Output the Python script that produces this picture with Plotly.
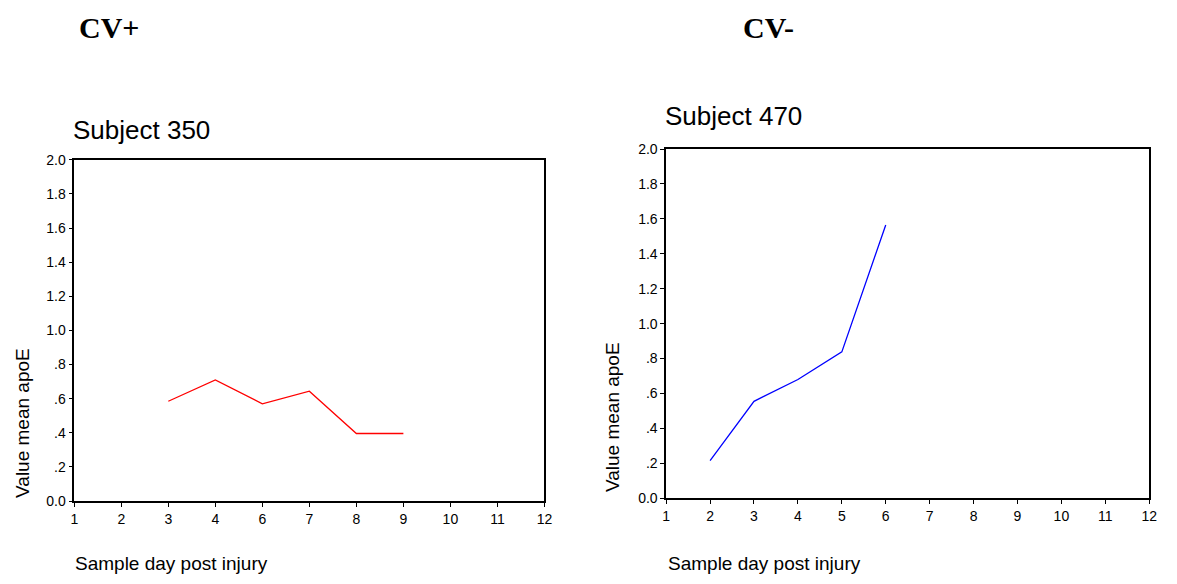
import plotly.graph_objects as go

# Subject 350 (CV+): sample days present in the record, and apoE values
days_350_axis = ["1", "2", "3", "4", "6", "7", "8", "9", "10", "11", "12"]
days_350 = ["3", "4", "6", "7", "8", "9"]
apoe_350 = [0.585, 0.71, 0.57, 0.644, 0.396, 0.396]

# Subject 470 (CV-)
days_470 = [2, 3, 4, 5, 6]
apoe_470 = [0.215, 0.555, 0.68, 0.838, 1.565]

y_ticks = [0.0, 0.2, 0.4, 0.6, 0.8, 1.0, 1.2, 1.4, 1.6, 1.8, 2.0]
y_labels = ["0.0", ".2", ".4", ".6", ".8", "1.0", "1.2", "1.4", "1.6", "1.8", "2.0"]

W, H = 1177, 584
FONT = "Liberation Sans, Arial, sans-serif"
SERIF = "Liberation Serif, Times New Roman, serif"


def dom_x(a, b):
    return [a / W, b / W]


def dom_y(top, bottom):
    return [1 - bottom / H, 1 - top / H]


fig = go.Figure()
fig.add_trace(go.Scatter(x=days_350, y=apoe_350, mode="lines",
                         line=dict(color="#ff0000", width=1.3),
                         xaxis="x", yaxis="y", showlegend=False))
fig.add_trace(go.Scatter(x=days_470, y=apoe_470, mode="lines",
                         line=dict(color="#0000ff", width=1.3),
                         xaxis="x2", yaxis="y2", showlegend=False))

axis_common = dict(showline=True, linecolor="black", linewidth=1.5, mirror=True,
                   ticks="outside", ticklen=4, tickcolor="black", tickwidth=1,
                   showgrid=False, zeroline=False,
                   tickfont=dict(family=FONT, size=14, color="black"))

fig.update_layout(
    width=W, height=H,
    margin=dict(l=0, r=0, t=0, b=0),
    paper_bgcolor="white", plot_bgcolor="white",
    xaxis=dict(domain=dom_x(71, 546), anchor="y", type="category",
               categoryorder="array", categoryarray=days_350_axis,
               range=[0, len(days_350_axis) - 1], **axis_common),
    yaxis=dict(domain=dom_y(156, 507), anchor="x", range=[0, 2],
               tickvals=y_ticks, ticktext=y_labels, **axis_common),
    xaxis2=dict(domain=dom_x(669, 1157), anchor="y2", range=[1, 12],
                tickmode="linear", tick0=1, dtick=1, **axis_common),
    yaxis2=dict(domain=dom_y(145, 504), anchor="x2", range=[0, 2],
                tickvals=y_ticks, ticktext=y_labels, **axis_common),
)

texts = [
    dict(text="<b>CV+</b>", x=74, y=20, size=30, family=SERIF),
    dict(text="<b>CV-</b>", x=745, y=20, size=30, family=SERIF),
    dict(text="Subject 350", x=68, y=125, size=26, family=FONT),
    dict(text="Subject 470", x=666, y=111, size=26, family=FONT),
    dict(text="Sample day post injury", x=70, y=571, size=19, family=FONT),
    dict(text="Sample day post injury", x=669, y=571, size=19, family=FONT),
]
for t in texts:
    fig.add_annotation(text=t["text"], xref="paper", yref="paper",
                       x=t["x"] / W, y=1 - t["y"] / H, xanchor="left", yanchor="middle",
                       showarrow=False, font=dict(family=t["family"], size=t["size"], color="black"))

for x, ybot in [(18, 506), (615, 500)]:
    fig.add_annotation(text="Value mean apoE", xref="paper", yref="paper",
                       x=x / W, y=1 - ybot / H, xanchor="center", yanchor="bottom",
                       textangle=-90, showarrow=False,
                       font=dict(family=FONT, size=19, color="black"))

fig.write_html("out.html")
